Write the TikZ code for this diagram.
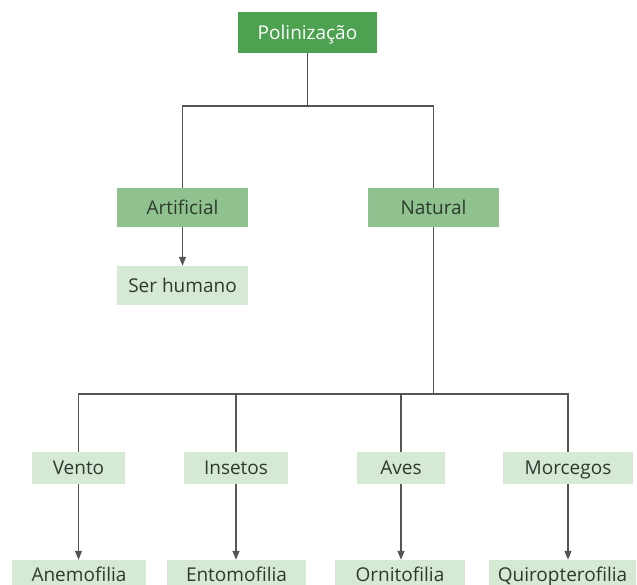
\documentclass[tikz,border=0pt]{standalone}
\usepackage{fontspec}
\setmainfont{Open Sans}
\usepackage{xcolor}
\usetikzlibrary{positioning,arrows.meta}

\definecolor{verdeescuro}{HTML}{4CA250}
\definecolor{verdemedio}{HTML}{8FC28F}
\definecolor{verdeclaro}{HTML}{D6E9D5}
\definecolor{linha}{HTML}{555555}
\definecolor{texto}{HTML}{2E3A2E}

\begin{document}
\begin{tikzpicture}[
    x=1pt, y=-1pt,
    font=\fontsize{19}{22}\selectfont,
    caixa/.style={
        inner sep=0pt,
        minimum height=32pt,
        text height=13.5pt,
        text depth=0pt,
        align=center,
        text=texto
    },
    raiz/.style={
        caixa,
        fill=verdeescuro,
        text=white,
        minimum width=139pt,
        minimum height=41pt
    },
    ramo/.style={
        caixa,
        fill=verdemedio,
        minimum width=131pt,
        minimum height=39pt
    },
    folha/.style={
        caixa,
        fill=verdeclaro
    },
    conector/.style={
        linha,
        line width=1.3pt
    },
    seta/.style={
        conector,
        -{Triangle[length=9pt,width=7pt]}
    }
]
\useasboundingbox (0,0) rectangle (637,585);
% Root
\node[raiz] at (307.5,32.5) (pol) {Polinização};
% Artificial / Natural
\node[ramo] at (182.5,207.5) (art) {Artificial};
\node[ramo] at (433.5,207.5) (nat) {Natural};
\node[folha, minimum width=131pt, minimum height=39pt] at (182.5,285.5) (hum) {Ser humano};
% Agents
\node[folha, minimum width=93pt] at (78.5,468) (ven) {Vento};
\node[folha, minimum width=104pt] at (236,468) (ins) {Insetos};
\node[folha, minimum width=88pt] at (401,468) (ave) {Aves};
\node[folha, minimum width=130pt] at (568,468) (mor) {Morcegos};
% Types of pollination (cut by the lower edge)
\node[folha, minimum width=134pt, minimum height=30pt] at (79,575) (ane) {Anemofilia};
\node[folha, minimum width=139pt, minimum height=30pt] at (236.5,575) (ent) {Entomofilia};
\node[folha, minimum width=130pt, minimum height=30pt] at (400,575) (orn) {Ornitofilia};
\node[folha, minimum width=147pt, minimum height=30pt] at (562.5,575) (qui) {Quiropterofilia};

% Junctions
\coordinate (j1) at (307.5,106);
\coordinate (j2) at (433.5,394);

% Tree lines
\draw[conector] (pol.south) -- (j1);
\draw[conector] (art.north) -- (art.north |- j1) -- (nat.north |- j1) -- (nat.north);
\draw[conector] (nat.south) -- (j2);
\draw[conector] (ven.north) -- (ven.north |- j2) -- (mor.north |- j2) -- (mor.north);
\draw[conector] (ins.north) -- (ins.north |- j2);
\draw[conector] (ave.north) -- (ave.north |- j2);

% Arrows
\draw[seta] (art.south) -- (hum.north);
\draw[seta] (ven.south) -- (ven.south |- ane.north);
\draw[seta] (ins.south) -- (ins.south |- ent.north);
\draw[seta] (ave.south) -- (ave.south |- orn.north);
\draw[seta] (mor.south) -- (mor.south |- qui.north);
\end{tikzpicture}
\end{document}
